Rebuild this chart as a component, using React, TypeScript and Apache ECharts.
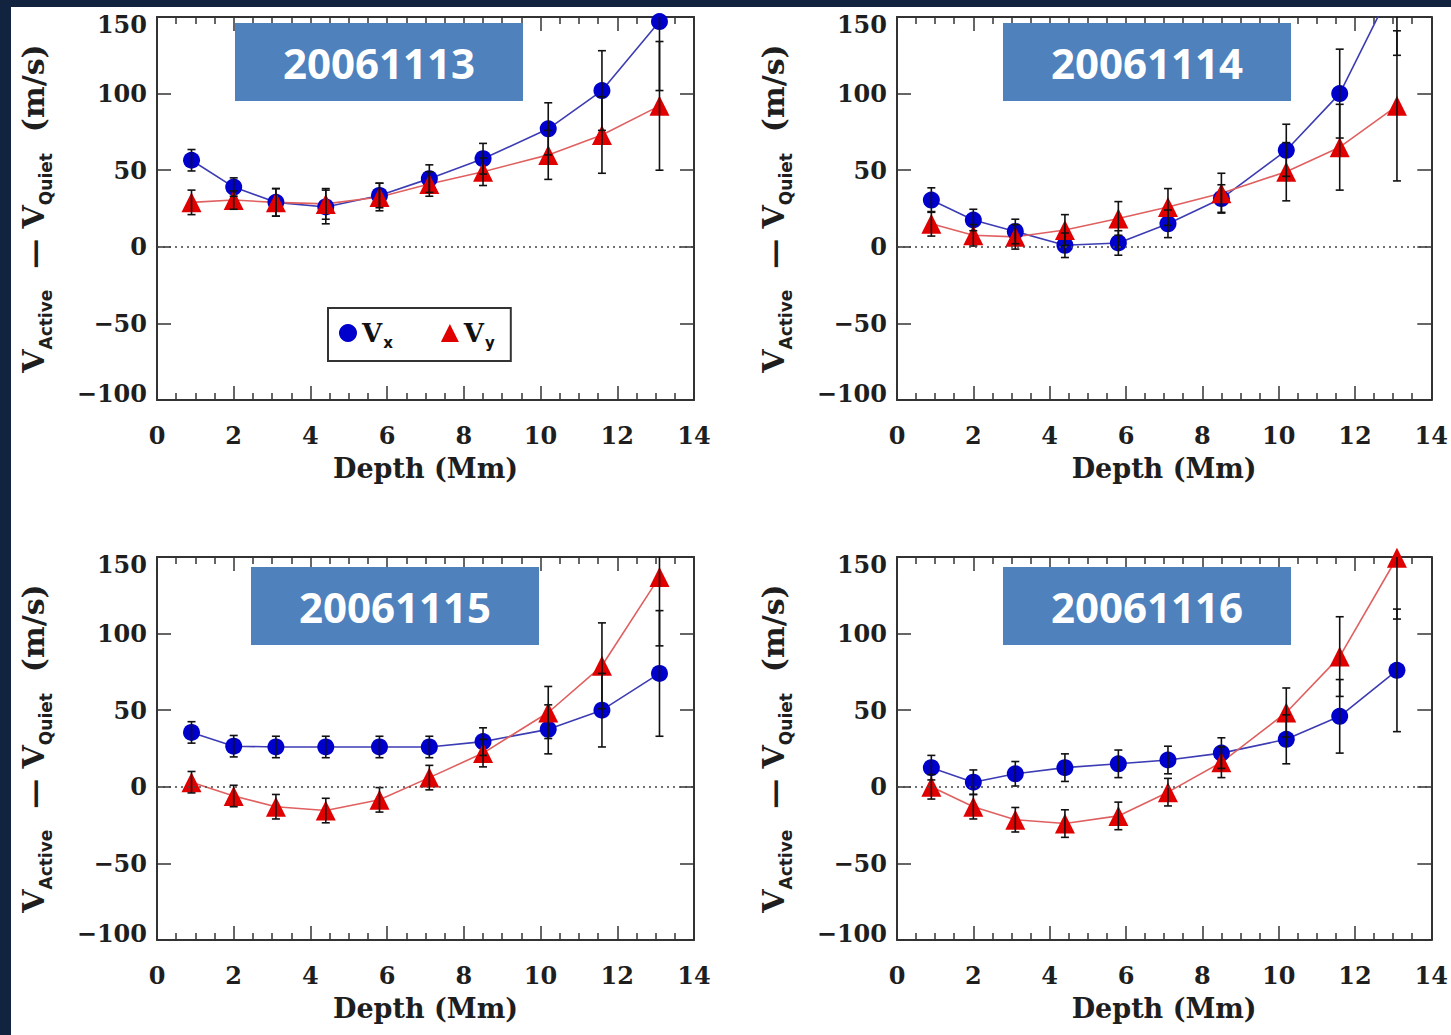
import React, { useEffect, useRef } from 'react';
import * as echarts from 'echarts';

// ---- data ----
const depths = [0.9, 2.0, 3.1, 4.4, 5.8, 7.1, 8.5, 10.2, 11.6, 13.1];
const panelDates = ['20061113', '20061114', '20061115', '20061116'];

const vx1 = [56.5, 39, 29, 26, 33.5, 44.5, 57.5, 77, 102, 147];
const vy1 = [29, 30.5, 29, 28, 32.5, 41, 49, 60, 73, 92];
const vx1Err = [7, 6, 9, 11, 8, 9, 10, 17, 26, 45];
const vy1Err = [8, 6, 9, 10, 9, 8, 9, 16, 25, 42];

const vx2 = [30.5, 17.5, 10, 1, 2.5, 15, 31.5, 63, 100, 175];
const vy2 = [15, 7.5, 6.5, 11, 18.5, 26, 35, 49, 65, 92];
const vx2Err = [8, 7, 8, 8, 8, 9, 9, 17, 29, 50];
const vy2Err = [8, 7, 8, 10, 11, 12, 13, 19, 28, 49];

const vx3 = [35.5, 26.5, 26, 26, 26, 26, 29.5, 37.5, 50, 74];
const vy3 = [3, -6, -13, -15.5, -8.5, 6, 22, 48.5, 79, 137];
const vx3Err = [7, 7, 7, 7, 7, 7, 9, 16, 24, 41];
const vy3Err = [7, 7, 8, 8, 8, 8, 9, 17, 28, 45];

const vx4 = [12.5, 3, 8.5, 12.5, 15, 17.5, 22, 31, 46, 76];
const vy4 = [0, -13, -21.5, -24, -19, -3.5, 16, 48.5, 85, 149.5];
const vx4Err = [8, 8, 8, 9, 9, 9, 10, 16, 24, 40];
const vy4Err = [8, 8, 8, 9, 9, 9, 10, 16, 26, 40];

const vxSets = [vx1, vx2, vx3, vx4];
const vySets = [vy1, vy2, vy3, vy4];
const vxErrSets = [vx1Err, vx2Err, vx3Err, vx4Err];
const vyErrSets = [vy1Err, vy2Err, vy3Err, vy4Err];

const X_MIN = 0;
const X_MAX = 14;
const X_STEP = 2;
const Y_MIN = -100;
const Y_MAX = 150;
const Y_STEP = 50;

// ---- layout ----
const grids = [
  { left: 157, top: 17, width: 537, height: 383 },
  { left: 897, top: 17, width: 536, height: 383 },
  { left: 157, top: 557, width: 537, height: 383 },
  { left: 897, top: 557, width: 536, height: 383 },
];
const boxes = [
  { x: 235, y: 23 },
  { x: 1003, y: 23 },
  { x: 251, y: 567 },
  { x: 1003, y: 567 },
];

const serif = '"DejaVu Serif", serif';
const sans = '"DejaVu Sans", sans-serif';
const frame = '#333';
const txt = '#1e1e1e';
const blueMarker = '#0000cc';
const blueLine = '#3c3cb4';
const redMarker = '#e00000';
const redLine = '#e06060';

const fmtY = (v: number) => {
  const s = v < 0 ? '\u2212' + Math.abs(v) : String(v);
  if (v === Y_MAX) return '{hi|' + s + '}';
  if (v === Y_MIN) return '{lo|' + s + '}';
  return '{n|' + s + '}';
};

const errRender = (params: any, api: any) => {
  const x = api.value(0);
  const y = api.value(1);
  const e = api.value(2);
  const hiV = Math.min(y + e, Y_MAX);
  const loV = Math.max(y - e, Y_MIN);
  const top = api.coord([x, hiV]);
  const bot = api.coord([x, loV]);
  const style = { stroke: '#111', lineWidth: 1.6 };
  const children: any[] = [
    { type: 'line', shape: { x1: top[0], y1: top[1], x2: bot[0], y2: bot[1] }, style },
  ];
  if (y + e <= Y_MAX) {
    children.push({ type: 'line', shape: { x1: top[0] - 4, y1: top[1], x2: top[0] + 4, y2: top[1] }, style });
  }
  if (y - e >= Y_MIN) {
    children.push({ type: 'line', shape: { x1: bot[0] - 4, y1: bot[1], x2: bot[0] + 4, y2: bot[1] }, style });
  }
  return { type: 'group', children };
};

const yName = '{v|V}{s|Active}{v|\u00a0\u00a0\u2014\u00a0V}{s|Quiet}{v|\u00a0\u00a0(m/s)}';

function buildOption() {
  const xAxis: any[] = [];
  const yAxis: any[] = [];
  const series: any[] = [];
  const tickLine = { color: frame, width: 1.5 };
  const axisLine = { onZero: false, lineStyle: { color: frame, width: 2 } };
  const yLab = { fontFamily: serif, fontWeight: 'bold', fontSize: 24, color: txt };

  grids.forEach((g, i) => {
    xAxis.push({
      gridIndex: i, type: 'value', position: 'bottom', min: X_MIN, max: X_MAX, interval: X_STEP,
      axisLine, axisTick: { inside: true, length: 14, lineStyle: tickLine },
      minorTick: { show: true, splitNumber: 4, length: 7, lineStyle: tickLine },
      splitLine: { show: false }, minorSplitLine: { show: false },
      axisLabel: { margin: 23, fontFamily: serif, fontWeight: 'bold', fontSize: 24, color: txt },
      name: 'Depth (Mm)', nameLocation: 'middle', nameGap: 55,
      nameTextStyle: { fontFamily: serif, fontWeight: 'bold', fontSize: 27, color: txt },
    });
    xAxis.push({
      gridIndex: i, type: 'value', position: 'top', min: X_MIN, max: X_MAX, interval: X_STEP,
      axisLine, axisTick: { inside: true, length: 14, lineStyle: tickLine },
      minorTick: { show: true, splitNumber: 4, length: 7, lineStyle: tickLine },
      splitLine: { show: false }, minorSplitLine: { show: false },
      axisLabel: { show: false },
    });
    yAxis.push({
      gridIndex: i, type: 'value', position: 'left', min: Y_MIN, max: Y_MAX, interval: Y_STEP,
      axisLine, axisTick: { inside: true, length: 14, lineStyle: tickLine },
      splitLine: { show: false },
      axisLabel: {
        margin: 10, formatter: fmtY,
        rich: {
          n: { ...yLab },
          hi: { ...yLab, padding: [14, 0, 0, 0] },
          lo: { ...yLab, padding: [0, 0, 14, 0] },
        },
      },
      name: yName, nameLocation: 'middle', nameRotate: 90, nameGap: 109,
      nameTextStyle: {
        rich: {
          v: { fontFamily: serif, fontWeight: 'bold', fontSize: 30, lineHeight: 30, color: txt, verticalAlign: 'top' },
          s: { fontFamily: sans, fontWeight: 'bold', fontSize: 17, lineHeight: 17, color: txt, padding: [19, 0, 0, 0], verticalAlign: 'top' },
        },
      },
    });
    yAxis.push({
      gridIndex: i, type: 'value', position: 'right', min: Y_MIN, max: Y_MAX, interval: Y_STEP,
      axisLine, axisTick: { inside: true, length: 14, lineStyle: tickLine },
      splitLine: { show: false }, axisLabel: { show: false },
    });

    const xi = 2 * i;
    const yi = 2 * i;
    const vx = vxSets[i];
    const vy = vySets[i];
    series.push({
      type: 'line', name: 'Vx', xAxisIndex: xi, yAxisIndex: yi, clip: true, z: 3,
      data: depths.map((d, k) => [d, vx[k]]),
      symbol: 'circle', symbolSize: 17,
      itemStyle: { color: blueMarker },
      lineStyle: { color: blueLine, width: 1.6 },
      markLine: {
        silent: true, symbol: ['none', 'none'], label: { show: false },
        lineStyle: { type: [2, 4], color: '#444', width: 1.5 },
        data: [{ yAxis: 0 }],
      },
    });
    series.push({
      type: 'line', name: 'Vy', xAxisIndex: xi, yAxisIndex: yi, clip: true, z: 3,
      data: depths.map((d, k) => [d, vy[k]]),
      symbol: 'triangle', symbolSize: 20,
      itemStyle: { color: redMarker },
      lineStyle: { color: redLine, width: 1.6 },
    });
    series.push({
      type: 'custom', name: 'errVx' + i, xAxisIndex: xi, yAxisIndex: yi, z: 4, silent: true,
      encode: { x: 0, y: 1 },
      data: depths.map((d, k) => [d, vx[k], vxErrSets[i][k]]),
      renderItem: errRender,
    });
    series.push({
      type: 'custom', name: 'errVy' + i, xAxisIndex: xi, yAxisIndex: yi, z: 4, silent: true,
      encode: { x: 0, y: 1 },
      data: depths.map((d, k) => [d, vy[k], vyErrSets[i][k]]),
      renderItem: errRender,
    });
  });

  const graphic: any[] = [];
  boxes.forEach((b, i) => {
    graphic.push({
      type: 'rect', z: 100, shape: { x: b.x, y: b.y, width: 288, height: 78 },
      style: { fill: '#4f81bd' },
    });
    graphic.push({
      type: 'text', z: 101, x: b.x + 144, y: b.y + 39,
      style: {
        text: panelDates[i], fill: '#ffffff', fontFamily: '"Open Sans", sans-serif', fontWeight: 'bold', fontSize: 42,
        align: 'center', verticalAlign: 'middle', textAlign: 'center', textVerticalAlign: 'middle',
      },
    });
  });

  return {
    animation: false,
    backgroundColor: 'transparent',
    grid: grids.map((g) => ({ ...g, containLabel: false })),
    xAxis,
    yAxis,
    legend: {
      left: 328, top: 308, orient: 'horizontal', selectedMode: false,
      data: [
        { name: 'Vx', icon: 'circle' },
        { name: 'Vy', icon: 'triangle' },
      ],
      itemWidth: 18, itemHeight: 18, itemGap: 48,
      padding: [12, 16, 11, 11],
      borderColor: frame, borderWidth: 2, backgroundColor: '#ffffff',
      formatter: (n: string) => (n === 'Vx' ? '{v|V}{s|x}' : '{v|V}{s|y}'),
      textStyle: {
        rich: {
          v: { fontFamily: serif, fontWeight: 'bold', fontSize: 26, lineHeight: 26, color: '#111', verticalAlign: 'top' },
          s: { fontFamily: sans, fontWeight: 'bold', fontSize: 15, lineHeight: 15, color: '#111', padding: [15, 0, 0, 1], verticalAlign: 'top' },
        },
      },
    },
    graphic,
    series,
  };
}

export default function App() {
  const ref = useRef<HTMLDivElement>(null);
  useEffect(() => {
    if (!ref.current) return;
    const chart = echarts.init(ref.current, undefined, { renderer: 'svg' });
    chart.setOption(buildOption() as any);
    return () => chart.dispose();
  }, []);
  return (
    <div style={{ position: 'fixed', left: 0, top: 0, width: 1451, height: 1035, background: '#11233f', overflow: 'hidden' }}>
      <div style={{ position: 'absolute', left: 11, top: 7, right: 0, bottom: 0, background: '#ffffff' }} />
      <div ref={ref} style={{ position: 'absolute', left: 0, top: 0, width: 1451, height: 1035 }} />
    </div>
  );
}
